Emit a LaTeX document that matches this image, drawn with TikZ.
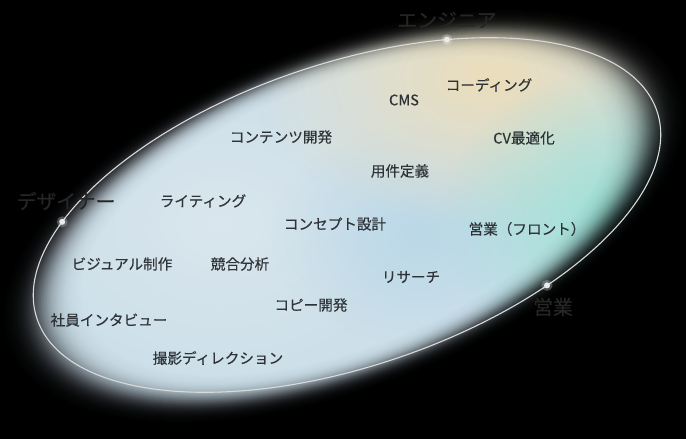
\documentclass[tikz,border=0pt]{standalone}
\usepackage{fontspec}
\newfontfamily\jp{Noto Sans CJK JP}[FakeBold=0.3]
\newfontfamily\jprole{Noto Sans CJK JP}[FakeBold=0.6]
\usetikzlibrary{fadings}
\tikzfading[name=softblob, inner color=transparent!0, outer color=transparent!100]
\definecolor{basecol}{HTML}{CDE0EA}
\definecolor{beigecol}{HTML}{ECDDBA}
\definecolor{tealcol}{HTML}{9EE1D5}
\definecolor{bluecol}{HTML}{B6D6E7}
\definecolor{whitecol}{HTML}{DDE8EE}
\definecolor{txtcol}{HTML}{2E3337}
\definecolor{rolecol}{HTML}{262626}
\definecolor{linecol}{HTML}{DADADA}
\begin{document}
\begin{tikzpicture}[x=1pt,y=1pt,
  item/.style={text=txtcol, font=\jp\fontsize{14.6}{16}\selectfont, inner sep=0pt},
  role/.style={text=rolecol, font=\jprole\fontsize{19.8}{22}\selectfont, inner sep=0pt},
  dotmark/.style={circle, fill=white!92!black, inner sep=0pt, minimum size=6pt},
  halo/.style={circle, fill=white, opacity=0.25, inner sep=0pt, minimum size=11pt}]
\fill[black] (0,0) rectangle (686,439);
\useasboundingbox (0,0) rectangle (686,439);
% bright body
\fill[basecol] (0,0) rectangle (686,439);
\fill[whitecol, path fading=softblob, opacity=0.8] (220,215) ellipse [x radius=200, y radius=150];
\fill[bluecol, path fading=softblob, opacity=0.8] (420,204) ellipse [x radius=150, y radius=110];
\fill[beigecol, path fading=softblob] (490,362) ellipse [x radius=240, y radius=150];
\fill[tealcol, path fading=softblob] (610,220) ellipse [x radius=170, y radius=150];
% soft glow edge (blurred, slightly steeper ellipse)
\begin{scope}[shift={(344,223)}, rotate=21.5]
  \foreach \i in {0,...,99}{
    \pgfmathsetmacro\s{0.75+0.005*\i}
    \pgfmathsetmacro\ba{0.5*(1-tanh((\s-1.0)/0.062))}
    \pgfmathsetmacro\bb{0.5*(1-tanh((\s+0.005-1.0)/0.062))}
    \pgfmathsetmacro\o{1-\bb/\ba}
    \pgfmathsetmacro\rx{322*\s}
    \pgfmathsetmacro\ry{153*\s}
    \fill[black, opacity=\o, even odd rule] (-900,-900) rectangle (900,900) (0,0) ellipse [x radius=\rx, y radius=\ry];
  }
  \fill[black, even odd rule] (-900,-900) rectangle (900,900) (0,0) ellipse [x radius=402.5, y radius=191.3];
\end{scope}
% outline and anchor points
\begin{scope}[shift={(347,224)}, rotate=18.5]
  \draw[linecol, line width=1.1pt] (0,0) ellipse [x radius=326.9, y radius=151.6];
  \coordinate (pe) at (62.6:326.9 and 151.6);
  \coordinate (pd) at (146.4:326.9 and 151.6);
  \coordinate (ps) at (300.8:326.9 and 151.6);
\end{scope}
\foreach \p in {pe,pd,ps}{
  \node[halo] at (\p) {};
  \node[dotmark] at (\p) {};
}
% role labels
\node[role] (eng) at (447,419) {エンジニア};
\node[role] (des) at (66,238) {デザイナー};
\node[role] (sal) at (553,132) {営業};
% items
\node[item] (cms) at (404,339) {CMS};
\node[item] (cod) at (489,354) {コーディング};
\node[item] (cv) at (524,301) {CV最適化};
\node[item] (con) at (281,302) {コンテンツ開発};
\node[item] (wri) at (203,238) {ライティング};
\node[item] (req) at (400,268) {用件定義};
\node[item] (cpt) at (335,215) {コンセプト設計};
\node[item] (sf) at (527,210) {営業（フロント）};
\node[item] (res) at (411,162) {リサーチ};
\node[item] (vis) at (122,175) {ビジュアル制作};
\node[item] (cmp) at (240,175) {競合分析};
\node[item] (cop) at (311,134) {コピー開発};
\node[item] (int) at (109,119) {社員インタビュー};
\node[item] (pho) at (218,81) {撮影ディレクション};
\end{tikzpicture}
\end{document}
